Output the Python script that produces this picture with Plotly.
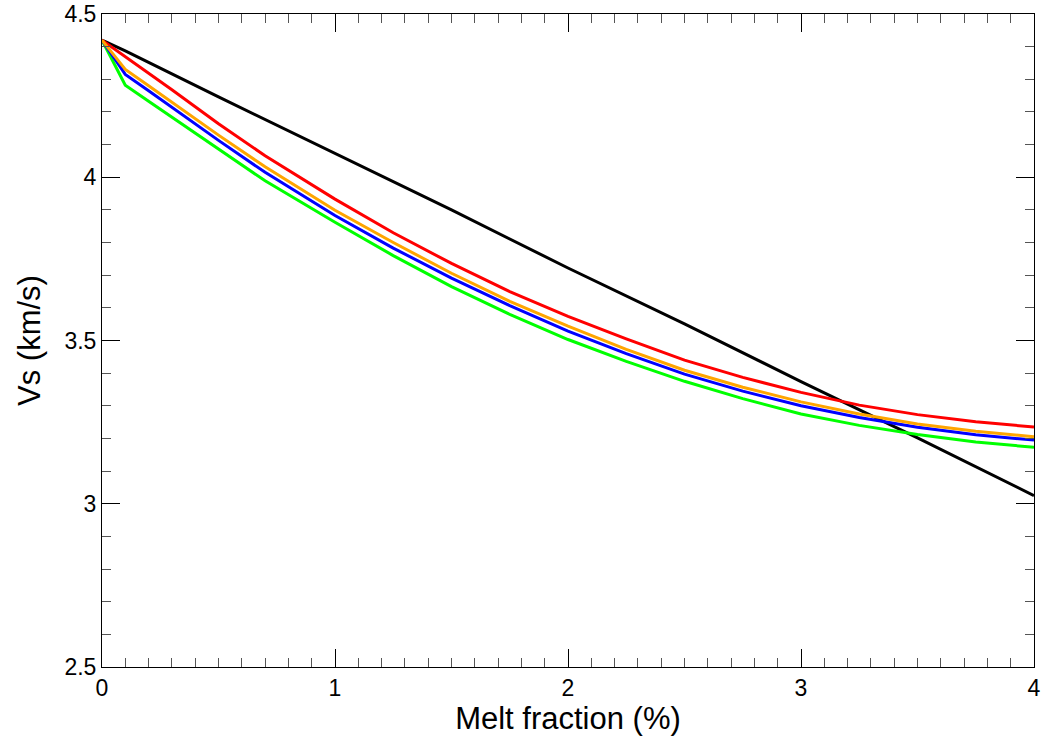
import plotly.graph_objects as go

x_black = [0, 0.1, 0.5, 1.0, 1.5, 2.0, 2.5, 3.0, 3.5, 4.0]
vs_black = [4.42, 4.387, 4.246, 4.074, 3.90, 3.722, 3.551, 3.374, 3.202, 3.025]

x_col = [0, 0.1, 0.2, 0.3, 0.4, 0.5, 0.7, 1.0, 1.25, 1.5, 1.75, 2.0, 2.25, 2.5, 2.75, 3.0, 3.25, 3.5, 3.75, 4.0]
vs_red = [4.42, 4.37, 4.32, 4.268, 4.216, 4.164, 4.066, 3.933, 3.83, 3.736, 3.65, 3.574, 3.505, 3.44, 3.387, 3.341, 3.302, 3.273, 3.251, 3.235]
vs_orange = [4.42, 4.33, 4.28, 4.23, 4.18, 4.129, 4.032, 3.899, 3.80, 3.706, 3.62, 3.544, 3.473, 3.409, 3.357, 3.312, 3.275, 3.244, 3.222, 3.205]
vs_blue = [4.42, 4.315, 4.265, 4.214, 4.164, 4.113, 4.015, 3.883, 3.783, 3.691, 3.607, 3.529, 3.46, 3.397, 3.345, 3.30, 3.264, 3.234, 3.211, 3.195]
vs_green = [4.42, 4.282, 4.233, 4.184, 4.135, 4.086, 3.989, 3.862, 3.76, 3.665, 3.58, 3.503, 3.436, 3.375, 3.322, 3.275, 3.24, 3.212, 3.189, 3.173]

x_ticks = [0, 1, 2, 3, 4]
x_ticklabels = ["0", "1", "2", "3", "4"]
y_ticks = [2.5, 3, 3.5, 4, 4.5]
y_ticklabels = ["2.5", "3", "3.5", "4", "4.5"]

FONT = "Liberation Sans, Arial, Helvetica, sans-serif"

fig = go.Figure()
series = [
    (x_black, vs_black, "black"),
    (x_col, vs_green, "#00ff00"),
    (x_col, vs_blue, "#0000ff"),
    (x_col, vs_red, "#ff0000"),
    (x_col, vs_orange, "#ffa500"),
]
for xs, ys, c in series:
    fig.add_trace(go.Scatter(x=xs, y=ys, mode="lines",
                             line=dict(color=c, width=3), showlegend=False))

axis_common = dict(
    showline=True, linecolor="black", linewidth=1, mirror="ticks",
    ticks="inside", ticklen=18, tickwidth=1, tickcolor="black",
    showgrid=False, zeroline=False, automargin=False,
    tickfont=dict(family=FONT, size=23, color="black"),
)

fig.update_xaxes(
    range=[0, 4], tickvals=x_ticks, ticktext=x_ticklabels,
    minor=dict(dtick=0.1, ticks="inside", ticklen=9, tickcolor="#555555", tickwidth=1, showgrid=False),
    title=dict(text="Melt fraction (%)", font=dict(family=FONT, size=31, color="black"), standoff=4),
    **axis_common,
)
fig.update_yaxes(
    range=[2.5, 4.5], tickvals=y_ticks, ticktext=y_ticklabels,
    minor=dict(dtick=0.1, ticks="inside", ticklen=9, tickcolor="#555555", tickwidth=1, showgrid=False),
    title=dict(text="Vs (km/s)", font=dict(family=FONT, size=31, color="black"), standoff=14),
    **axis_common,
)

fig.update_layout(
    width=1044, height=740,
    margin=dict(l=102, r=10, t=14, b=73),
    paper_bgcolor="white", plot_bgcolor="white",
    showlegend=False,
)

fig.write_html("out.html")
